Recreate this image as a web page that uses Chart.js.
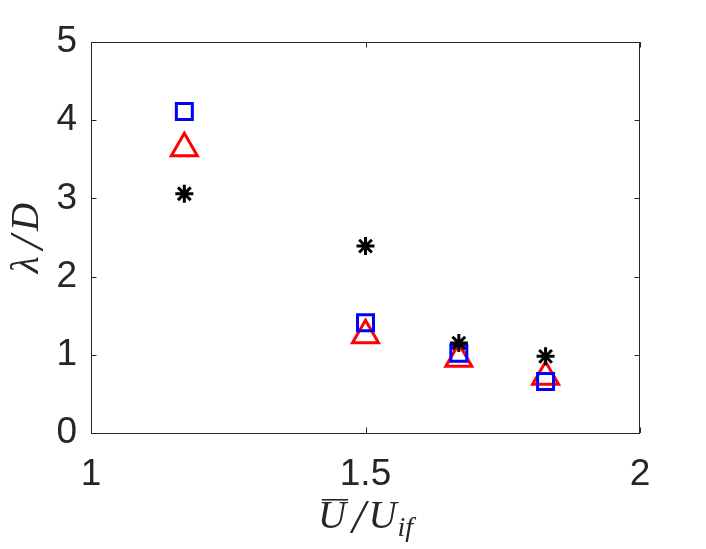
<!DOCTYPE html>
<html>
<head>
<meta charset="utf-8">
<script src="https://cdn.jsdelivr.net/npm/chart.js@4.4.1/dist/chart.umd.min.js"></script>
<style>
  html, body { margin: 0; padding: 0; background: #fff; }
</style>
</head>
<body>
<canvas id="lambdaChart" width="706" height="549"></canvas>
<script>
// valores
const xVals = [1.17, 1.5, 1.67, 1.828];
const starVals = [3.06, 2.39, 1.15, 0.98];     // asterisco preto
const squareVals = [4.11, 1.41, 1.02, 0.66];   // quadrado azul
const triangleVals = [3.64, 1.25, 0.95, 0.72]; // triângulo vermelho
const xTicks = [1, 1.5, 2];
const yTicks = [0, 1, 2, 3, 4, 5];

const axisColor = '#262626';
const tickFont = { family: '"Liberation Sans", Arial, Helvetica, sans-serif', size: 37 };
const serifItalic = (size) => `italic ${size}px "Liberation Serif", "Times New Roman", serif`;

function toPoints(ys) {
  return xVals.map((x, i) => ({ x: x, y: ys[i] }));
}

// desenha uma sequência de pedaços de texto (estilo LaTeX) centrada em cx
function drawMath(ctx, pieces, cx, base) {
  let total = 0;
  pieces.forEach(p => {
    ctx.font = serifItalic(p.size);
    p.w = ctx.measureText(p.t).width;
    total += p.w + (p.gap || 0);
  });
  let x = cx - total / 2;
  pieces.forEach(p => {
    ctx.font = serifItalic(p.size);
    ctx.fillText(p.t, x, base + (p.dy || 0));
    if (p.bar) ctx.fillRect(x + 4, base - 29, p.w - 2, 1.6);
    x += p.w + (p.gap || 0);
  });
}

// moldura, ticks para dentro e títulos dos eixos
const framePlugin = {
  id: 'frame',
  afterDraw(chart) {
    const ctx = chart.ctx;
    const area = chart.chartArea;
    const xs = chart.scales.x;
    const ys = chart.scales.y;
    ctx.save();
    ctx.strokeStyle = axisColor;
    ctx.lineWidth = 1;
    ctx.strokeRect(Math.round(area.left) + 0.5, Math.round(area.top) + 0.5,
      Math.round(area.right - area.left) - 1, Math.round(area.bottom - area.top));

    const tl = 5.5;
    ctx.beginPath();
    xTicks.forEach(v => {
      const px = Math.round(xs.getPixelForValue(v)) + 0.5;
      ctx.moveTo(px, area.bottom);
      ctx.lineTo(px, area.bottom - tl);
      ctx.moveTo(px, area.top);
      ctx.lineTo(px, area.top + tl);
    });
    yTicks.forEach(v => {
      const py = Math.round(ys.getPixelForValue(v)) + 0.5;
      ctx.moveTo(area.left, py);
      ctx.lineTo(area.left + tl, py);
      ctx.moveTo(area.right, py);
      ctx.lineTo(area.right - tl, py);
    });
    ctx.stroke();

    ctx.fillStyle = axisColor;
    ctx.textAlign = 'left';
    ctx.textBaseline = 'alphabetic';

    // título do eixo y: λ/D
    ctx.save();
    ctx.translate(38, 238);
    ctx.rotate(-Math.PI / 2);
    drawMath(ctx, [
      { t: 'λ', size: 39, gap: 7 },
      { t: '/', size: 48, dy: 5, gap: 5 },
      { t: 'D', size: 39 }
    ], 0, 0);
    ctx.restore();

    // título do eixo x: Ū/U_if
    drawMath(ctx, [
      { t: 'U', size: 39, gap: 6, bar: true },
      { t: '/', size: 48, dy: 5, gap: 3 },
      { t: 'U', size: 39, gap: 1 },
      { t: 'if', size: 28, dy: 8 }
    ], (area.left + area.right) / 2, 528);
    ctx.restore();
  }
};

new Chart(document.getElementById('lambdaChart'), {
  type: 'scatter',
  data: {
    datasets: [
      {
        label: 'asterisco',
        data: toPoints(starVals),
        pointStyle: 'star',
        pointRadius: 9,
        borderColor: '#000000',
        backgroundColor: '#000000',
        pointBorderWidth: 3,
        order: 0
      },
      {
        label: 'quadrado',
        data: toPoints(squareVals),
        pointStyle: 'rect',
        pointRadius: 11.3,
        borderColor: '#0000ff',
        backgroundColor: 'rgba(0,0,0,0)',
        pointBorderWidth: 3,
        order: 1
      },
      {
        label: 'triângulo',
        data: toPoints(triangleVals),
        pointStyle: 'triangle',
        pointRadius: 15,
        borderColor: '#ff0000',
        backgroundColor: 'rgba(0,0,0,0)',
        pointBorderWidth: 3,
        order: 2
      }
    ]
  },
  options: {
    responsive: false,
    animation: false,
    events: [],
    layout: { padding: { left: 0, top: 42, right: 66, bottom: 0 } },
    plugins: {
      legend: { display: false },
      tooltip: { enabled: false }
    },
    scales: {
      x: {
        type: 'linear',
        min: 1,
        max: 2,
        afterBuildTicks: (scale) => { scale.ticks = xTicks.map(v => ({ value: v })); },
        afterFit: (scale) => { scale.height = 116; },
        grid: { display: false, drawTicks: false },
        border: { display: false },
        ticks: {
          font: tickFont,
          color: axisColor,
          padding: 20,
          maxRotation: 0,
          autoSkip: false,
          callback: (v) => String(v)
        }
      },
      y: {
        type: 'linear',
        min: 0,
        max: 5,
        afterBuildTicks: (scale) => { scale.ticks = yTicks.map(v => ({ value: v })); },
        afterFit: (scale) => { scale.width = 91; },
        grid: { display: false, drawTicks: false },
        border: { display: false },
        ticks: {
          font: tickFont,
          color: axisColor,
          padding: 14,
          callback: (v) => String(v)
        }
      }
    }
  },
  plugins: [framePlugin]
});
</script>
</body>
</html>
